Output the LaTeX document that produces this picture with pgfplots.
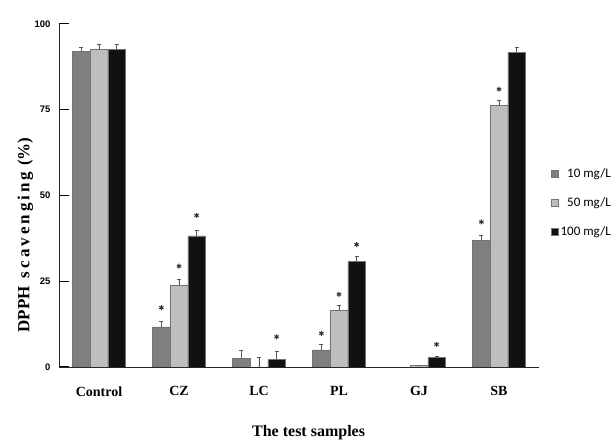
\documentclass[border=0pt]{standalone}
\usepackage{pgfplots}
\pgfplotsset{compat=1.18}
\usepackage{fontspec}
\setmainfont{Liberation Serif}
\newfontfamily\tickfont{Liberation Sans}
\newfontfamily\legfont{Carlito}
\definecolor{c10}{HTML}{7F7F7F}
\definecolor{c50}{HTML}{BEBEBE}
\definecolor{c100}{HTML}{111111}

\pgfplotstableread{
x e y
0 1.2 92.0
1 1.6 11.7
2 2.3 2.5
3 1.5 5.0
5 1.4 37.0
}\tten
\pgfplotstableread{
x e y
0 1.5 92.6
1 1.7 23.9
2 2.7 0.0
3 1.5 16.6
4 0.0 0.4
5 1.5 76.3
}\tfifty
\pgfplotstableread{
x e y
0 1.4 92.6
1 1.6 38.2
2 2.3 2.2
3 1.4 30.8
4 0.3 2.8
5 1.5 91.8
}\thund

\begin{document}
\begin{tikzpicture}[x=1pt,y=1pt]
\path[use as bounding box] (-59,-76) rectangle (554,367);
\begin{axis}[
  at={(0,0)}, anchor=south west,
  scale only axis, width=480pt, height=343pt,
  ybar, bar width=0.22,
  xmin=-0.5, xmax=5.5, ymin=0, ymax=100,
  axis lines=left, axis line style={-, black!85, line width=0.8pt},
  xtick={0,...,5}, xticklabels={Control,CZ,LC,PL,GJ,SB},
  minor xtick={0.5,1.5,2.5,3.5,4.5,5.5},
  ytick={0,25,50,75,100},
  tick align=inside,
  major tick length=10pt,
  minor tick length=-4pt,
  xtick style={draw=none},
  minor tick style={black!35, line width=0.5pt},
  ytick style={black, line width=1pt},
  /pgf/number format/assume math mode=true,
  yticklabel style={font=\tickfont\bfseries\fontsize{9.5}{10}\selectfont, xshift=-5pt},
  xticklabel style={font=\bfseries\fontsize{14}{16}\selectfont, yshift=-16pt},
  xlabel={The test samples},
  xlabel style={font=\bfseries\fontsize{16}{18}\selectfont, at={(axis description cs:0.52,-0.19)}, anchor=center},
  ylabel={DPPH\hspace{8pt}s\hspace{3pt}c\hspace{3pt}a\hspace{3pt}v\hspace{3pt}e\hspace{3pt}n\hspace{3pt}g\hspace{3pt}i\hspace{3pt}n\hspace{3pt}g\hspace{6pt}(\%)},
  ylabel style={font=\bfseries\fontsize{17}{19}\selectfont, at={(axis description cs:-0.07,0.385)}, anchor=center},
  legend style={at={(1.025,0.592)}, anchor=north west, draw=none, fill=none,
    font=\legfont\fontsize{13}{15}\selectfont, row sep=14.5pt, inner xsep=0pt,
    cells={anchor=west}},
  legend cell align=left,
  bars/.style={draw=black!55, line width=0.4pt,
    legend image code/.code={\fill[##1] (0pt,-3.5pt) rectangle (7pt,3.5pt);},
    error bars/y dir=plus, error bars/y explicit,
    error bars/error bar style={black!65, line width=0.6pt},
    error bars/error mark options={black!65, line width=0.6pt, mark size=2pt, rotate=90}},
  stars/.style={only marks, mark=asterisk, mark size=2.5pt, black!80, line width=1pt, forget plot},
]
\addplot[bars, bar shift=-0.22, fill=c10] table[x=x, y=y, y error=e] {\tten};
\addlegendentry{\hphantom{0}10 mg/L}
\addplot[bars, bar shift=0, fill=c50] table[x=x, y=y, y error=e] {\tfifty};
\addlegendentry{\hphantom{0}50 mg/L}
\addplot[bars, bar shift=0.22, fill=c100] table[x=x, y=y, y error=e] {\thund};
\addlegendentry{100 mg/L}
\addplot[stars] coordinates {(0.78,17.3) (2.78,9.8) (4.78,42.3)};
\addplot[stars] coordinates {(1,29.4) (3,21.2) (5,81.0)};
\addplot[stars] coordinates {(1.22,44.2) (2.22,8.8) (3.22,35.7) (4.22,6.6)};
\end{axis}
\end{tikzpicture}
\end{document}
